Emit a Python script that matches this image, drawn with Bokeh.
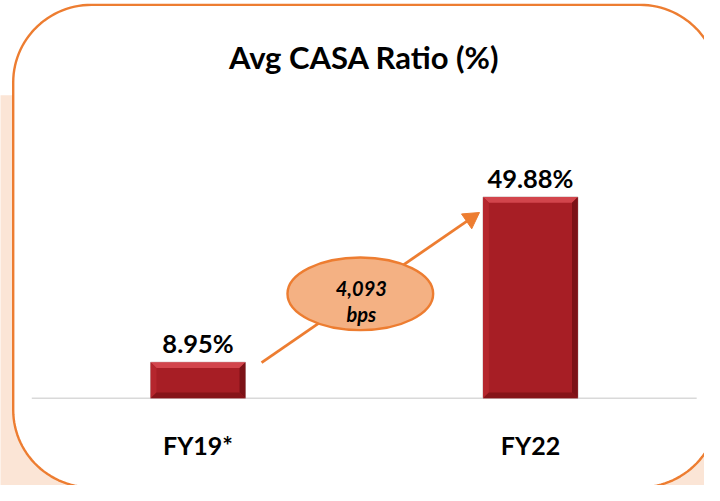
import numpy as np
from bokeh.plotting import figure
from bokeh.models import Range1d
from bokeh.core.properties import value
from bokeh.embed import file_html
from bokeh.resources import INLINE

# ---- data ----
categories = ["FY19*", "FY22"]
values = [8.95, 49.88]
value_labels = ["8.95%", "49.88%"]
title_text = "Avg CASA Ratio (%)"
change_bps = round((values[1] - values[0]) * 100)
change_labels = ["{:,}".format(change_bps), "bps"]

# ---- layout constants ----
W, H = 704, 485
REF_W, REF_H = 720, 501
SX, SY = W / REF_W, H / REF_H
PXX = 340.0      # reference px per category step
PXY = 4.17       # reference px per percentage point
X0_REF = 202     # reference px of first category centre
Y0_REF = 411     # reference px of baseline

def dx(ref_x):
    return (ref_x - X0_REF) / PXX

def dy(ref_y):
    return (Y0_REF - ref_y) / PXY

xs = list(range(len(categories)))

p = figure(width=W, height=H, output_backend="svg", toolbar_location=None,
           x_range=Range1d(dx(0), dx(REF_W)),
           y_range=Range1d(dy(REF_H), dy(0)),
           min_border=0)
p.axis.visible = False
p.grid.visible = False
p.outline_line_color = None
p.background_fill_color = "white"
p.border_fill_color = "white"

# peach background band
p.quad(left=[dx(-10)], right=[dx(730)], top=[dy(98)], bottom=[dy(520)],
       fill_color="#FBE5D6", line_color=None)

# rounded rectangle panel
def rounded(l, t, r, b, rad, n=30):
    px, py = [], []
    corners = [(r - rad, t + rad, -90, 0), (r - rad, b - rad, 0, 90),
               (l + rad, b - rad, 90, 180), (l + rad, t + rad, 180, 270)]
    for cx, cy, a0, a1 in corners:
        for a in np.linspace(np.radians(a0), np.radians(a1), n):
            px.append(cx + rad * np.cos(a))
            py.append(cy + rad * np.sin(a))
    return [dx(v) for v in px], [dy(v) for v in py]

rx, ry = rounded(13, 4.5, 734, 503, 80)
p.patch(rx, ry, fill_color="white", line_color="#ED7D31", line_width=2.4)

# baseline
p.segment(x0=[-0.5], y0=[0], x1=[len(categories) - 0.5], y1=[0],
          line_color="#D9D9D9", line_width=1.5)

# bars
bw = 97 / PXX
p.vbar(x=xs, top=values, bottom=0, width=bw, fill_color="#A71E25",
       line_color="#C8B4B4", line_width=1)

# bevel
bx, by = 6 / PXX, 6 / PXY
tops_x, tops_y, bots_x, bots_y, lefts_x, lefts_y, rights_x, rights_y = ([] for _ in range(8))
for x, v in zip(xs, values):
    L, R, T, B = x - bw / 2, x + bw / 2, v, 0
    tops_x.append([L, R, R - bx, L + bx]); tops_y.append([T, T, T - by, T - by])
    bots_x.append([L, R, R - bx, L + bx]); bots_y.append([B, B, B + by, B + by])
    lefts_x.append([L, L, L + bx, L + bx]); lefts_y.append([B, T, T - by, B + by])
    rights_x.append([R, R, R - bx, R - bx]); rights_y.append([B, T, T - by, B + by])
p.patches(tops_x, tops_y, fill_color="#D2454C", line_color=None)
p.patches(lefts_x, lefts_y, fill_color="#B5262D", line_color=None)
p.patches(rights_x, rights_y, fill_color="#7C1217", line_color=None)
p.patches(bots_x, bots_y, fill_color="#861419", line_color=None)

FONT = value("Lato")

# value labels
p.text(x=xs, y=[v + 19.5 / PXY for v in values], text=value_labels,
       text_font=FONT, text_font_style="bold", text_font_size="25.5px",
       text_align="center", text_baseline="alphabetic", text_color="black")

# category labels
p.text(x=xs, y=[dy(459)] * len(xs), text=categories,
       text_font=FONT, text_font_style="bold", text_font_size="25px",
       text_align="center", text_baseline="alphabetic", text_color="black")

# title
p.text(x=[dx(372)], y=[dy(58)], text=[title_text],
       text_font=FONT, text_font_style="bold", text_font_size="31px",
       text_align="center", text_baseline="alphabetic", text_color="black")

# arrow (shaft + head as glyphs so the badge sits on top)
ax0, ay0, ax1, ay1 = 267, 374, 487, 221
ang = np.arctan2((ay0 - ay1) * SY, (ax1 - ax0) * SX)   # screen angle of arrow
hx = ax1 - 7 * np.cos(ang) / SX
hy = ay1 + 7 * np.sin(ang) / SY
sx_end = ax1 - 10 * np.cos(ang) / SX
sy_end = ay1 + 10 * np.sin(ang) / SY
p.segment(x0=[dx(ax0)], y0=[dy(ay0)], x1=[dx(sx_end)], y1=[dy(sy_end)],
          line_color="#ED7D31", line_width=2.8)
p.scatter(x=[dx(hx)], y=[dy(hy)], marker="triangle", size=18,
          angle=ang - np.pi / 2, fill_color="#ED7D31", line_color="#ED7D31")

# ellipse badge
p.ellipse(x=[dx(368)], y=[dy(303)], width=149 / PXX, height=75 / PXY,
          fill_color="#F4B183", line_color="#ED7D31", line_width=2.4)
p.text(x=[dx(369)] * 2, y=[dy(297), dy(324)], text=change_labels,
       text_font=FONT, text_font_style="bold italic", text_font_size="20px",
       text_align="center", text_baseline="alphabetic", text_color="black")

open("out.html", "w").write(file_html(p, INLINE))
